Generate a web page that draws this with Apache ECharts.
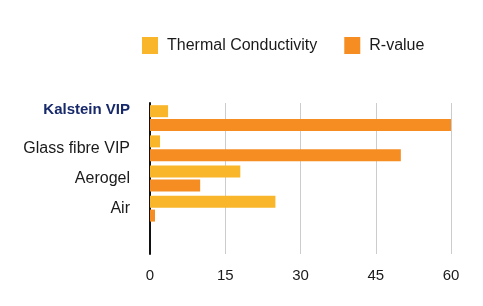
<!DOCTYPE html>
<html><head><meta charset="utf-8">
<script src="https://cdn.jsdelivr.net/npm/echarts@6/dist/echarts.min.js"></script>
<style>html,body{margin:0;padding:0;background:#fff}#c{width:483px;height:306px}</style>
</head><body><div id="c"></div>
<script>
const categories = ['Kalstein VIP', 'Glass fibre VIP', 'Aerogel', 'Air', ''];
const thermalConductivity = [3.6, 2, 18, 25, null];
const rValue = [60, 50, 10, 1, null];
const xTicks = [0, 15, 30, 45, 60];

const chart = echarts.init(document.getElementById('c'));
chart.setOption({
  animation: false,
  textStyle: { fontFamily: 'Liberation Sans, Arial, sans-serif' },
  legend: {
    top: 32, left: 137,
    itemWidth: 16, itemHeight: 17, itemGap: 27,
    icon: 'rect',
    textStyle: { fontSize: 16, color: '#1a1a1a', padding: [0, 0, 0, 4] },
    data: ['Thermal Conductivity', 'R-value']
  },
  grid: { left: 150, right: 32, top: 103, bottom: 52 },
  xAxis: {
    type: 'value', min: xTicks[0], max: xTicks[xTicks.length - 1], interval: 15,
    axisLine: { show: false }, axisTick: { show: false },
    splitLine: { lineStyle: { color: '#cccccc', width: 1 } },
    axisLabel: { fontSize: 15, color: '#1a1a1a', margin: 14 }
  },
  yAxis: {
    type: 'category', inverse: true, data: categories,
    axisLine: { lineStyle: { color: '#111', width: 2 } },
    axisTick: { show: false },
    axisLabel: {
      margin: 20,
      fontSize: 16, color: '#1a1a1a',
      formatter: function (v, i) { return i === 0 ? '{k|' + v + '}' : v; },
      rich: { k: { fontSize: 15, fontWeight: 'bold', color: '#17296b', padding: [0, 0, 16, 0] } }
    }
  },
  series: [
    { name: 'Thermal Conductivity', type: 'bar', data: thermalConductivity, barWidth: 12, barGap: '15%',
      itemStyle: { color: '#F9B62B' } },
    { name: 'R-value', type: 'bar', data: rValue, barWidth: 12, barGap: '15%',
      itemStyle: { color: '#F68D22' } }
  ]
});
</script></body></html>
